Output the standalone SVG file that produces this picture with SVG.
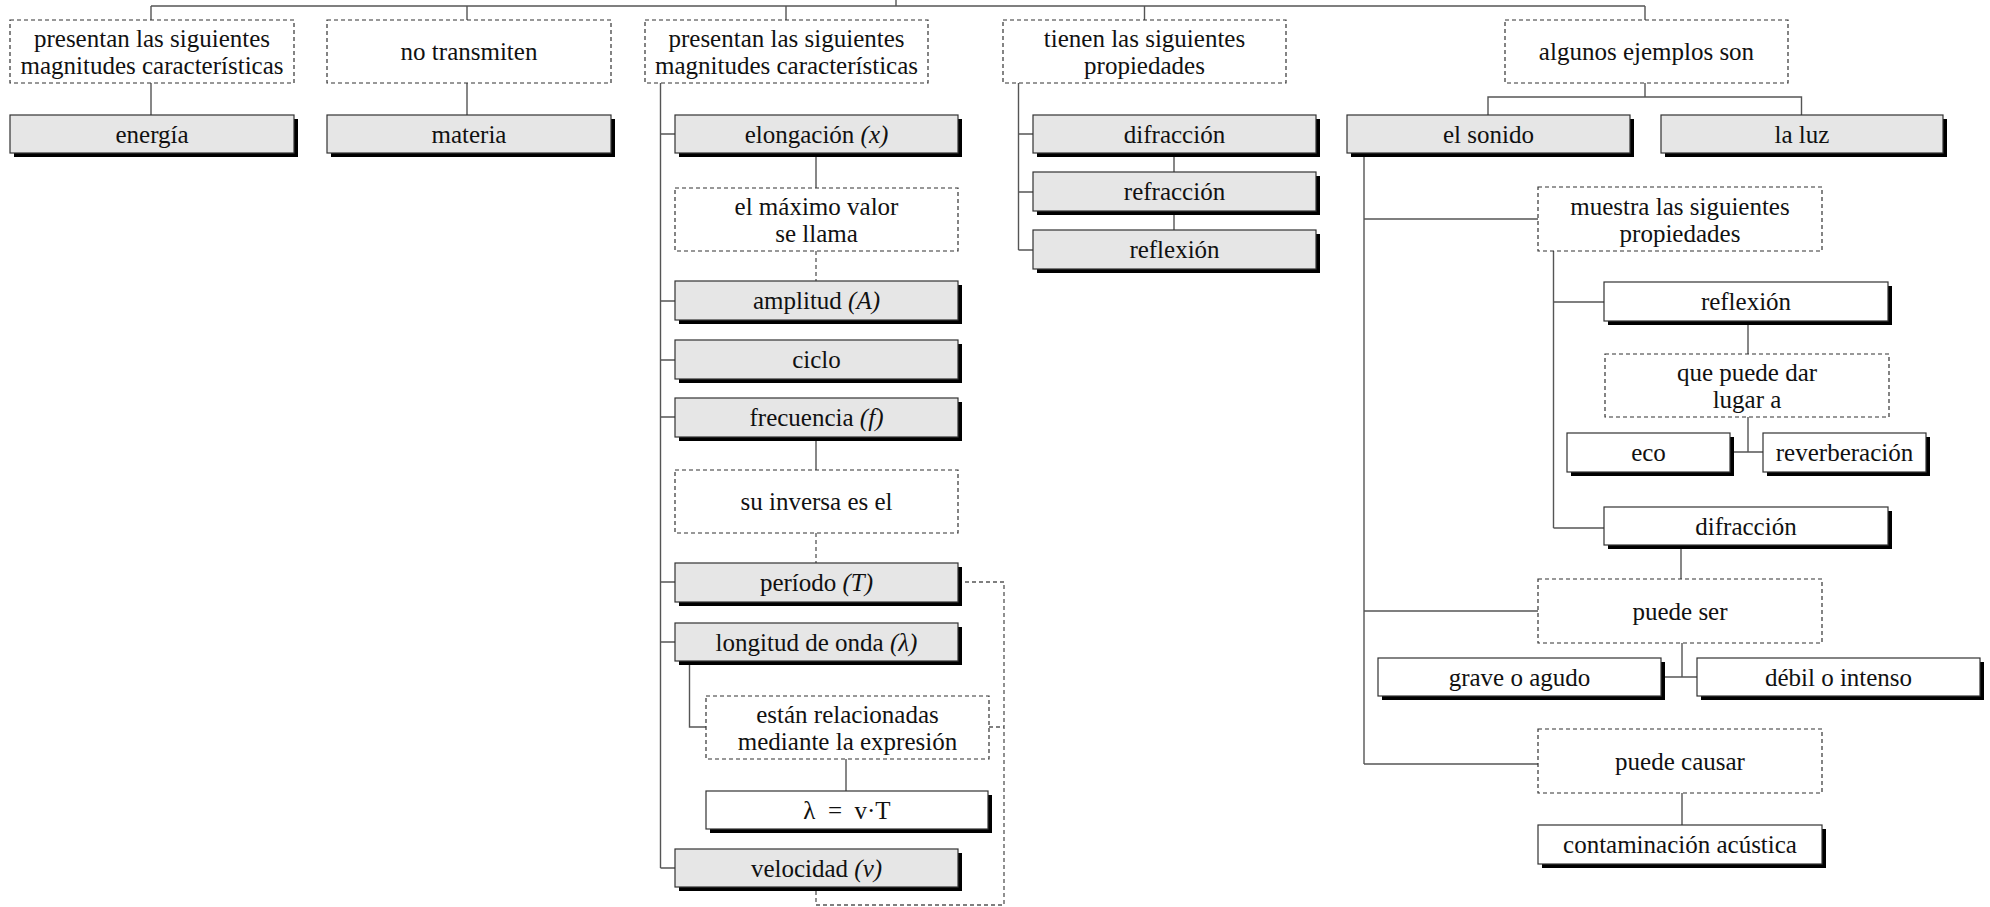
<svg xmlns="http://www.w3.org/2000/svg" width="1990" height="907" viewBox="0 0 1990 907">
<style>
  text { font-family: "Liberation Serif", "Times New Roman", serif; font-size: 25px; fill: #111; text-anchor: middle; }
  .it { font-style: italic; }
  .sh { fill: #000; }
  .g { fill: #e6e6e6; stroke: #333; stroke-width: 1.2; }
  .w { fill: #fff; stroke: #333; stroke-width: 1.2; }
  .d { fill: #fff; stroke: #333; stroke-width: 1.2; stroke-dasharray: 4 3; }
  .c { fill: none; stroke: #555; stroke-width: 1.4; }
  .cd { fill: none; stroke: #555; stroke-width: 1.3; stroke-dasharray: 4 3; }
</style>
<rect width="1990" height="907" fill="#fff"/>

<g id="connectors">
  <path class="c" d="M151,6 H1645 M896,0 V6 M151,6 V20 M467,6 V20 M786,6 V20 M1144.5,6 V20 M1645,6 V20"/>
  <path class="c" d="M151,83 V115 M467,83 V115"/>
  <path class="c" d="M660.5,83 V868 M660.5,134 H675 M660.5,301 H675 M660.5,360 H675 M660.5,417 H675 M660.5,582 H675 M660.5,642 H675 M660.5,868 H675"/>
  <path class="c" d="M816,153 V188 M816,437 V470"/>
  <path class="cd" d="M816,251 V281 M816,533 V563"/>
  <path class="c" d="M689.5,661 V727 H706 M846,759 V791"/>
  <path class="cd" d="M965,582 H1004 V905 H816 V891 M989,727 H1004"/>
  <path class="c" d="M1018.5,83 V250 M1018.5,134 H1033 M1018.5,192 H1033 M1018.5,250 H1033 M1174,153 V172 M1174,211 V230"/>
  <path class="c" d="M1645,83 V97 M1488,115 V97 H1801.5 V115"/>
  <path class="c" d="M1364,153 V764 M1364,219 H1538 M1364,611 H1538 M1364,764 H1538"/>
  <path class="c" d="M1553.5,251 V528 M1553.5,302 H1604 M1553.5,528 H1604"/>
  <path class="c" d="M1748,321 V354 M1748,417 V452 M1730,452 H1763"/>
  <path class="c" d="M1681,545 V579 M1682,643 V677 M1661,677 H1697 M1682,793 V825"/>
</g>

<g id="n_presentan1"><rect class="d" x="10" y="20" width="284" height="63"/><text x="152" y="47">presentan las siguientes</text><text x="152" y="74">magnitudes características</text></g>
<g id="n_energia"><rect class="sh" x="14" y="119" width="284" height="38"/><rect class="g" x="10" y="115" width="284" height="38"/><text x="152" y="142.5">energía</text></g>
<g id="n_notransmiten"><rect class="d" x="327" y="20" width="284" height="63"/><text x="469" y="60">no transmiten</text></g>
<g id="n_materia"><rect class="sh" x="331" y="119" width="284" height="38"/><rect class="g" x="327" y="115" width="284" height="38"/><text x="469" y="142.5">materia</text></g>

<g id="n_presentan2"><rect class="d" x="645" y="20" width="283" height="63"/><text x="786.5" y="47">presentan las siguientes</text><text x="786.5" y="74">magnitudes características</text></g>
<g id="n_elongacion"><rect class="sh" x="679" y="119" width="283" height="38"/><rect class="g" x="675" y="115" width="283" height="38"/><text x="816.5" y="142.5">elongación <tspan class="it">(x)</tspan></text></g>
<g id="n_maximo"><rect class="d" x="675" y="188" width="283" height="63"/><text x="816.5" y="215">el máximo valor</text><text x="816.5" y="242">se llama</text></g>
<g id="n_amplitud"><rect class="sh" x="679" y="285" width="283" height="39"/><rect class="g" x="675" y="281" width="283" height="39"/><text x="816.5" y="309">amplitud <tspan class="it">(A)</tspan></text></g>
<g id="n_ciclo"><rect class="sh" x="679" y="344" width="283" height="39"/><rect class="g" x="675" y="340" width="283" height="39"/><text x="816.5" y="368">ciclo</text></g>
<g id="n_frecuencia"><rect class="sh" x="679" y="402" width="283" height="39"/><rect class="g" x="675" y="398" width="283" height="39"/><text x="816.5" y="426">frecuencia <tspan class="it">(f)</tspan></text></g>
<g id="n_inversa"><rect class="d" x="675" y="470" width="283" height="63"/><text x="816.5" y="510">su inversa es el</text></g>
<g id="n_periodo"><rect class="sh" x="679" y="567" width="283" height="39"/><rect class="g" x="675" y="563" width="283" height="39"/><text x="816.5" y="591">período <tspan class="it">(T)</tspan></text></g>
<g id="n_longitud"><rect class="sh" x="679" y="627" width="283" height="38"/><rect class="g" x="675" y="623" width="283" height="38"/><text x="816.5" y="650.5">longitud de onda <tspan class="it">(λ)</tspan></text></g>
<g id="n_estan"><rect class="d" x="706" y="696" width="283" height="63"/><text x="847.5" y="723">están relacionadas</text><text x="847.5" y="750">mediante la expresión</text></g>
<g id="n_formula"><rect class="sh" x="710" y="795" width="282" height="38"/><rect class="w" x="706" y="791" width="282" height="38"/><text x="847" y="818.5">λ&#160; =&#160; v·T</text></g>
<g id="n_velocidad"><rect class="sh" x="679" y="853" width="283" height="38"/><rect class="g" x="675" y="849" width="283" height="38"/><text x="816.5" y="876.5">velocidad <tspan class="it">(v)</tspan></text></g>

<g id="n_tienen"><rect class="d" x="1003" y="20" width="283" height="63"/><text x="1144.5" y="47">tienen las siguientes</text><text x="1144.5" y="74">propiedades</text></g>
<g id="n_difraccion1"><rect class="sh" x="1037" y="119" width="283" height="38"/><rect class="g" x="1033" y="115" width="283" height="38"/><text x="1174.5" y="142.5">difracción</text></g>
<g id="n_refraccion1"><rect class="sh" x="1037" y="176" width="283" height="39"/><rect class="g" x="1033" y="172" width="283" height="39"/><text x="1174.5" y="200">refracción</text></g>
<g id="n_reflexion1"><rect class="sh" x="1037" y="234" width="283" height="39"/><rect class="g" x="1033" y="230" width="283" height="39"/><text x="1174.5" y="258">reflexión</text></g>

<g id="n_algunos"><rect class="d" x="1505" y="20" width="283" height="63"/><text x="1646.5" y="60">algunos ejemplos son</text></g>
<g id="n_sonido"><rect class="sh" x="1351" y="119" width="283" height="38"/><rect class="g" x="1347" y="115" width="283" height="38"/><text x="1488.5" y="142.5">el sonido</text></g>
<g id="n_luz"><rect class="sh" x="1665" y="119" width="282" height="38"/><rect class="g" x="1661" y="115" width="282" height="38"/><text x="1802" y="142.5">la luz</text></g>
<g id="n_muestra"><rect class="d" x="1538" y="187" width="284" height="64"/><text x="1680" y="214.5">muestra las siguientes</text><text x="1680" y="241.5">propiedades</text></g>
<g id="n_reflexion2"><rect class="sh" x="1608" y="286" width="284" height="39"/><rect class="w" x="1604" y="282" width="284" height="39"/><text x="1746" y="310">reflexión</text></g>
<g id="n_quepuede"><rect class="d" x="1605" y="354" width="284" height="63"/><text x="1747" y="381">que puede dar</text><text x="1747" y="408">lugar a</text></g>
<g id="n_eco"><rect class="sh" x="1571" y="437" width="163" height="39"/><rect class="w" x="1567" y="433" width="163" height="39"/><text x="1648.5" y="461">eco</text></g>
<g id="n_reverberacion"><rect class="sh" x="1767" y="437" width="163" height="39"/><rect class="w" x="1763" y="433" width="163" height="39"/><text x="1844.5" y="461">reverberación</text></g>
<g id="n_difraccion2"><rect class="sh" x="1608" y="511" width="284" height="38"/><rect class="w" x="1604" y="507" width="284" height="38"/><text x="1746" y="534.5">difracción</text></g>
<g id="n_puedeser"><rect class="d" x="1538" y="579" width="284" height="64"/><text x="1680" y="619.5">puede ser</text></g>
<g id="n_grave"><rect class="sh" x="1382" y="662" width="283" height="38"/><rect class="w" x="1378" y="658" width="283" height="38"/><text x="1519.5" y="685.5">grave o agudo</text></g>
<g id="n_debil"><rect class="sh" x="1701" y="662" width="283" height="38"/><rect class="w" x="1697" y="658" width="283" height="38"/><text x="1838.5" y="685.5">débil o intenso</text></g>
<g id="n_causar"><rect class="d" x="1538" y="729" width="284" height="64"/><text x="1680" y="769.5">puede causar</text></g>
<g id="n_contaminacion"><rect class="sh" x="1542" y="829" width="284" height="39"/><rect class="w" x="1538" y="825" width="284" height="39"/><text x="1680" y="853">contaminación acústica</text></g>
</svg>
